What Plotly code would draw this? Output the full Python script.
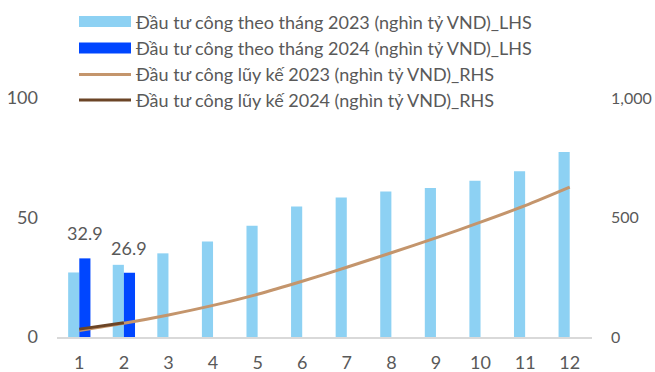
import plotly.graph_objects as go

# Monthly public investment (thousand bn VND), months 1-12
months = [1, 2, 3, 4, 5, 6, 7, 8, 9, 10, 11, 12]
monthly_2023 = [27.0, 30.2, 35.0, 40.0, 46.5, 54.6, 58.4, 60.9, 62.3, 65.4, 69.3, 77.4]
months_2024 = [1, 2]
monthly_2024 = [32.9, 26.9]

# Cumulative values (right-hand axis)
cumulative_2023 = [27.0, 57.2, 92.2, 132.2, 178.7, 233.3, 291.7, 352.6, 414.9, 480.3, 549.6, 627.0]
cumulative_2024 = [32.9, 59.8]

names = [
    "Đầu tư công theo tháng 2023 (nghìn tỷ VND)_LHS",
    "Đầu tư công theo tháng 2024 (nghìn tỷ VND)_LHS",
    "Đầu tư công lũy kế 2023 (nghìn tỷ VND)_RHS",
    "Đầu tư công lũy kế 2024 (nghìn tỷ VND)_RHS",
]

C_BAR23 = "#8DD1F3"
C_BAR24 = "#0046FF"
C_LINE23 = "#C4956C"
C_LINE24 = "#6B4426"
TEXT = "#595959"
FONT = "Lato"
FS = 18

W, H = 655, 372
ML, MR, MT, MB = 57, 63, 98, 35

fig = go.Figure()

fig.add_trace(go.Bar(x=months, y=monthly_2023, name=names[0],
                     marker=dict(color=C_BAR23, line=dict(width=0)), yaxis="y"))
fig.add_trace(go.Bar(x=months_2024, y=monthly_2024, name=names[1],
                     marker=dict(color=C_BAR24, line=dict(width=0)), yaxis="y"))
fig.add_trace(go.Scatter(x=months, y=cumulative_2023, name=names[2], mode="lines",
                         line=dict(color=C_LINE23, width=3, shape="spline", smoothing=0.8),
                         yaxis="y2"))
fig.add_trace(go.Scatter(x=months_2024, y=cumulative_2024, name=names[3], mode="lines",
                         line=dict(color=C_LINE24, width=3), yaxis="y2"))

# value labels above the 2024 bars (offset to the right-hand bar of each group)
for m, v in zip(months_2024, monthly_2024):
    fig.add_annotation(x=m, y=v, xref="x", yref="y", text=f"{v}", showarrow=False,
                       xshift=5.6, yshift=12, yanchor="bottom",
                       font=dict(family=FONT, size=FS, color=TEXT))

# hand-built legend above the plot
plot_w = W - ML - MR
plot_h = H - MT - MB


def px_x(px):
    return (px - ML) / plot_w


def px_y(py):
    return (H - MB - py) / plot_h


rows_y = [21.5, 48, 74.5, 100]
sw_x0, sw_x1, txt_x = 79, 131, 134
for i, (name, yc) in enumerate(zip(names, rows_y)):
    if i < 2:
        col = C_BAR23 if i == 0 else C_BAR24
        fig.add_shape(type="rect", xref="paper", yref="paper",
                      x0=px_x(sw_x0), x1=px_x(sw_x1), y0=px_y(yc + 5.5), y1=px_y(yc - 5.5),
                      fillcolor=col, line=dict(width=0))
    else:
        col = C_LINE23 if i == 2 else C_LINE24
        fig.add_shape(type="line", xref="paper", yref="paper",
                      x0=px_x(sw_x0), x1=px_x(sw_x1), y0=px_y(yc), y1=px_y(yc),
                      line=dict(color=col, width=3))
    fig.add_annotation(xref="paper", yref="paper", x=px_x(txt_x), y=px_y(yc),
                       xanchor="left", yanchor="middle", text=name, showarrow=False,
                       font=dict(family=FONT, size=FS, color=TEXT))

fig.update_layout(
    width=W, height=H,
    margin=dict(l=ML, r=MR, t=MT, b=MB, pad=0, autoexpand=False),
    paper_bgcolor="white", plot_bgcolor="white",
    barmode="group", bargap=0.5, bargroupgap=0,
    showlegend=False,
    font=dict(family=FONT, size=FS, color=TEXT),
    xaxis=dict(range=[0.5, 12.5], tickmode="array", tickvals=months,
               showgrid=False, zeroline=False, showline=True, automargin=False,
               linecolor="#D9D9D9", linewidth=2, ticks="",
               ticklabelstandoff=8, tickfont=dict(family=FONT, size=FS, color=TEXT)),
    yaxis=dict(range=[0, 100], tickvals=[0, 50, 100], showgrid=False, zeroline=False,
               showline=False, ticks="", ticklabelstandoff=18, automargin=False,
               tickfont=dict(family=FONT, size=FS, color=TEXT)),
    yaxis2=dict(range=[0, 1000], tickvals=[0, 500, 1000], tickformat=",",
                overlaying="y", side="right", showgrid=False, zeroline=False,
                showline=False, ticks="", ticklabelstandoff=18, automargin=False,
                tickfont=dict(family=FONT, size=16, color=TEXT)),
)

fig.write_html("out.html")
